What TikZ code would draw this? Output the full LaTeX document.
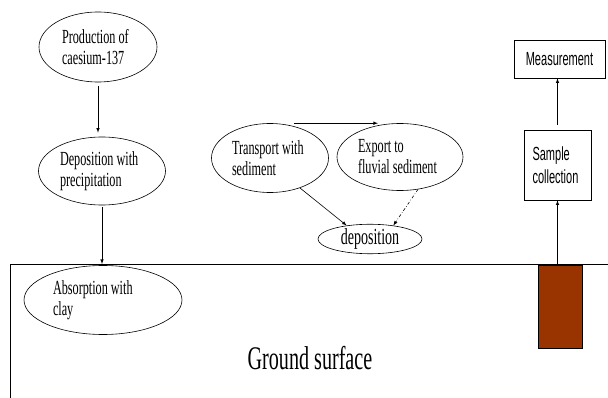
\documentclass[tikz,border=0pt]{standalone}
\usepackage{fontspec}
\newfontfamily\diagserif[FakeStretch=0.61]{Liberation Serif}
\newfontfamily\diagsans[FakeStretch=0.58]{Liberation Sans}
\usetikzlibrary{shapes.geometric}
\begin{document}
\begin{tikzpicture}[x=1pt,y=-1pt,line width=0.6pt,>=latex,
    stage/.style={draw,ellipse,inner sep=0pt,align=flush left,
      font=\diagserif\fontsize{20}{21}\selectfont},
    box/.style={draw,rectangle,inner sep=0pt,align=flush left,
      font=\diagsans\fontsize{19}{23}\selectfont}]
  \useasboundingbox (0,0) rectangle (608,398);
  % ground
  \coordinate (gleft) at (10,264);
  \coordinate (gright) at (608,264);
  \coordinate (gbottom) at (10,398);
  \draw (gright) -- (gleft) -- (gbottom);
  \node (ground) at (310,358) {\diagserif\fontsize{33}{36}\selectfont Ground surface};
  \node[draw,fill={rgb,255:red,153;green,51;blue,0},minimum width=44pt,minimum height=83pt,inner sep=0pt]
    (core) at (560,306.5) {};
  % left chain
  \node[stage,minimum width=118pt,minimum height=70pt,text width=72pt] (prod) at (98,47)
    {Production of\\caesium-137};
  \node[stage,minimum width=127pt,minimum height=68pt,text width=84pt] (depw) at (102,171)
    {Deposition with\\precipitation};
  \node[stage,minimum width=158pt,minimum height=69pt,text width=100pt] (abs) at (103,300)
    {Absorption with\\clay};
  % middle
  \node[stage,minimum width=117pt,minimum height=69pt,text width=76pt] (trans) at (270,158)
    {Transport with\\sediment};
  \node[stage,minimum width=126pt,minimum height=67pt,text width=84pt] (export) at (400,157)
    {Export to\\fluvial sediment};
  \node[stage,minimum width=104pt,minimum height=28pt,
    font=\diagserif\fontsize{23}{24}\selectfont] (depo) at (370,239) {deposition};
  % right
  \node[box,minimum width=67pt,minimum height=70pt,text width=50pt] (sample) at (557.5,165)
    {Sample\\collection};
  \node[box,minimum width=91pt,minimum height=38pt] (meas) at (559.5,59) {Measurement};
  \begin{scope}[->]
    \draw[shorten <=4pt,shorten >=4pt] (prod.south) -- (prod.south |- depw.north);
    \draw[shorten <=2pt] (depw.south) -- (depw.south |- gleft);
    \draw ([xshift=24pt]trans.north) -- ([xshift=-22pt]export.north);
    \draw (trans.-45) -- (depo.150);
    \draw[dash dot] (export.-61) -- (depo.30);
    \draw (sample.south |- core.north) -- (sample.south);
    \draw[shorten <=5pt] (sample.north) -- (sample.north |- meas.south);
  \end{scope}
\end{tikzpicture}
\end{document}
